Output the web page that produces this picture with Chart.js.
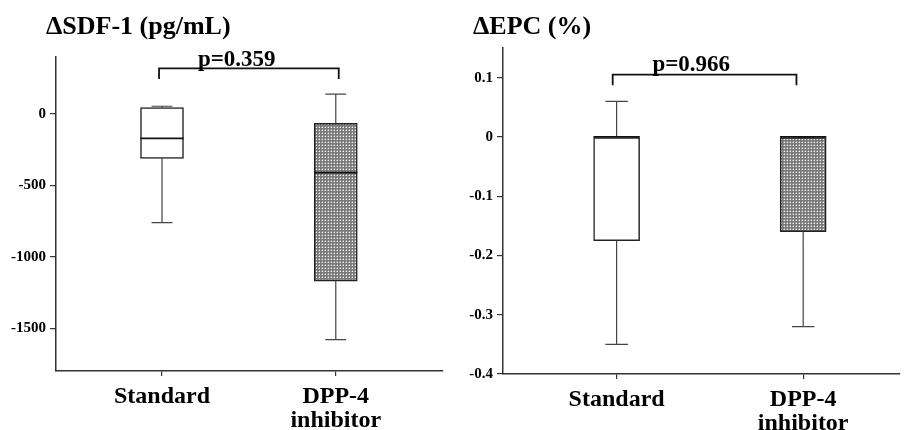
<!DOCTYPE html>
<html>
<head>
<meta charset="utf-8">
<script src="https://cdn.jsdelivr.net/npm/chart.js@4.4.1/dist/chart.umd.min.js"></script>
<style>
  html, body { margin: 0; padding: 0; background: #fff; }
  .panel { position: absolute; top: 0; height: 430px; }
  #p-sdf { left: 0; width: 450px; }
  #p-epc { left: 450px; width: 455px; }
</style>
</head>
<body>
<div class="panel" id="p-sdf"><canvas id="sdf-chart"></canvas></div>
<div class="panel" id="p-epc"><canvas id="epc-chart"></canvas></div>
<script>
// groups shared by both panels
const groups = ['Standard', ['DPP-4', 'inhibitor']];

// ΔSDF-1 (pg/mL) box stats, per group
const sdfMin = [-760, -1580];
const sdfQ1  = [-310, -1170];
const sdfMed = [-170, -410];
const sdfQ3  = [45, -65];
const sdfMax = [55, 140];
const sdfTicks  = [-1500, -1000, -500, 0];
const sdfLabels = ['-1500', '-1000', '-500', '0'];

// ΔEPC (%) box stats, per group
const epcMin = [-0.35, -0.32];
const epcQ1  = [-0.175, -0.16];
const epcMed = [0, 0];
const epcQ3  = [0, 0];
const epcMax = [0.06, 0];
const epcTicks  = [-0.4, -0.3, -0.2, -0.1, 0, 0.1];
const epcLabels = ['-0.4', '-0.3', '-0.2', '-0.1', '0', '0.1'];

// comparison brackets: [x left, x right], [leg bottom, top], p text
const sdfBracketX = [0.983, 2.017];
const sdfBracketY = [245, 320];
const sdfP = 'p=0.359';
const epcBracketX = [0.979, 1.964];
const epcBracketY = [0.087, 0.105];
const epcP = 'p=0.966';

const CAP = 0.06;       // half width of whisker caps (x units)
const HALF_BOX = 0.124; // half width of box (x units) for the median line
const SERIF = '"Liberation Serif", "Times New Roman", serif';

Chart.defaults.font.family = SERIF;
Chart.defaults.font.weight = 'bold';
Chart.defaults.color = '#000';

const el = (id) => document.getElementById(id);

const makePattern = () => {
  const c = document.createElement('canvas');
  c.width = 3; c.height = 3;
  const g = c.getContext('2d');
  g.fillStyle = '#7a7a7a'; g.fillRect(0, 0, 3, 3);
  g.fillStyle = '#a8a8a8'; g.fillRect(1, 0, 1, 1); g.fillRect(0, 1, 1, 1);
  g.fillStyle = '#f2f2f2'; g.fillRect(1, 1, 1, 1);
  return g.createPattern(c, 'repeat');
};

const gap = (x) => ({ x, y: null });

const whiskers = (mins, q1s, q3s, maxs) => mins.flatMap((mn, i) => {
  const x = i + 1;
  return [
    { x, y: q3s[i] }, { x, y: maxs[i] }, gap(x),
    { x: x - CAP, y: maxs[i] }, { x: x + CAP, y: maxs[i] }, gap(x),
    { x, y: q1s[i] }, { x, y: mn }, gap(x),
    { x: x - CAP, y: mn }, { x: x + CAP, y: mn }, gap(x),
  ];
});

const medians = (meds) => meds.flatMap((m, i) => [
  { x: i + 1 - HALF_BOX, y: m }, { x: i + 1 + HALF_BOX, y: m }, gap(i + 1),
]);

const bracket = (bx, by) => [
  { x: bx[0], y: by[0] }, { x: bx[0], y: by[1] },
  { x: bx[1], y: by[1] }, { x: bx[1], y: by[0] },
];

const panelText = {
  id: 'panelText',
  afterDraw(chart, args, opts) {
    const { ctx, scales: { x, y } } = chart;
    ctx.save();
    ctx.fillStyle = '#000';
    ctx.textBaseline = 'alphabetic';
    ctx.font = `bold 26px ${SERIF}`;
    ctx.textAlign = 'left';
    ctx.fillText(opts.title, opts.titleX, opts.titleY);
    ctx.font = `bold 23px ${SERIF}`;
    ctx.textAlign = 'center';
    ctx.fillText(opts.pText, x.getPixelForValue(opts.pX), y.getPixelForValue(opts.pY));
    ctx.restore();
  }
};

const makePanel = (id, p) => {
  const pattern = makePattern();
  const lineDs = (data, color, width) => ({
    type: 'line', data, borderColor: color, borderWidth: width, order: 0,
    pointRadius: 0, spanGaps: false, tension: 0, fill: false,
  });
  return new Chart(el(id), {
    type: 'bar',
    data: {
      datasets: [
        {
          data: groups.map((g, i) => ({ x: i + 1, y: [p.q1[i], p.q3[i]] })),
          backgroundColor: ['#fff', pattern], order: 5,
          borderColor: '#222', borderWidth: 1.5, borderSkipped: false,
          barThickness: p.barWidth,
        },
        lineDs(medians(p.med), '#111', 1.6),
        lineDs(whiskers(p.min, p.q1, p.q3, p.max), '#444', 1.2),
        lineDs(bracket(p.bracketX, p.bracketY), '#111', 1.8),
      ]
    },
    options: {
      responsive: true, maintainAspectRatio: false, animation: false,
      layout: { padding: { top: p.top, right: p.right, left: 0, bottom: 0 } },
      plugins: {
        legend: { display: false }, tooltip: { enabled: false }, title: { display: false },
        panelText: { title: p.title, titleX: p.titleX, titleY: 34, pText: p.pText, pX: p.pX, pY: p.pY },
      },
      scales: {
        x: {
          type: 'linear', min: p.xMin, max: p.xMax, offset: false,
          afterBuildTicks: (s) => { s.ticks = groups.map((g, i) => ({ value: i + 1 })); },
          afterFit: (s) => { s.height = p.xHeight; },
          ticks: {
            autoSkip: false, maxRotation: 0, padding: 9,
            font: { size: 24, weight: 'bold', lineHeight: 1.0 },
            callback: (v) => groups[v - 1],
          },
          grid: { display: true, offset: false, drawOnChartArea: false, tickLength: 5, color: '#333', lineWidth: 1.2 },
          border: { display: true, color: '#333', width: 1.5 },
        },
        y: {
          min: p.yMin, max: p.yMax,
          afterBuildTicks: (s) => { s.ticks = p.ticks.map(v => ({ value: v })); },
          afterFit: (s) => { s.width = p.yWidth; },
          ticks: {
            padding: 4, font: { size: 15, weight: 'bold' },
            callback: (v) => p.labels[p.ticks.indexOf(v)],
          },
          grid: { display: true, drawOnChartArea: false, tickLength: 6, color: '#333', lineWidth: 1.2 },
          border: { display: true, color: '#333', width: 1.5 },
        }
      }
    },
    plugins: [panelText]
  });
};

makePanel('sdf-chart', {
  min: sdfMin, q1: sdfQ1, med: sdfMed, q3: sdfQ3, max: sdfMax,
  ticks: sdfTicks, labels: sdfLabels, yMin: -1800, yMax: 400,
  xMin: 0.39, xMax: 2.617, bracketX: sdfBracketX, bracketY: sdfBracketY,
  title: 'ΔSDF-1 (pg/mL)', titleX: 46, pText: sdfP, pX: 1.43, pY: 337,
  top: 57, right: 7, yWidth: 56, xHeight: 59, barWidth: 43,
});

makePanel('epc-chart', {
  min: epcMin, q1: epcQ1, med: epcMed, q3: epcQ3, max: epcMax,
  ticks: epcTicks, labels: epcLabels, yMin: -0.4, yMax: 0.15,
  xMin: 0.391, xMax: 2.519, bracketX: epcBracketX, bracketY: epcBracketY,
  title: 'ΔEPC (%)', titleX: 23, pText: epcP, pX: 1.40, pY: 0.1105,
  top: 48, right: 5, yWidth: 53, xHeight: 56, barWidth: 46,
});
</script>
</body>
</html>
